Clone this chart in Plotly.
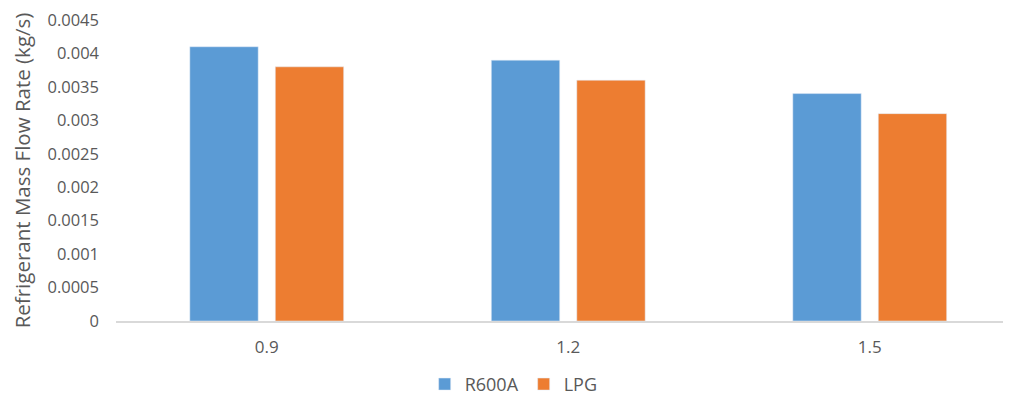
import plotly.graph_objects as go

categories = ["0.9", "1.2", "1.5"]
r600a = [0.0041, 0.0039, 0.0034]
lpg = [0.0038, 0.0036, 0.0031]
y_ticks = [0, 0.0005, 0.001, 0.0015, 0.002, 0.0025, 0.003, 0.0035, 0.004, 0.0045]
y_tick_text = ["0", "0.0005", "0.001", "0.0015", "0.002", "0.0025", "0.003", "0.0035", "0.004", "0.0045"]

font_family = "Open Sans"
gray = "#595959"

fig = go.Figure()
fig.add_trace(go.Bar(x=categories, y=r600a, name="R600A", marker_color="#5B9BD5"))
fig.add_trace(go.Bar(x=categories, y=lpg, name="LPG", marker_color="#ED7D31"))

fig.update_layout(
    width=995, height=388,
    margin=dict(l=108, r=0, t=12, b=75, pad=0),
    paper_bgcolor="white", plot_bgcolor="white",
    barmode="group", bargap=0.433, bargroupgap=0.2,
    font=dict(family=font_family, color=gray, size=16),
    showlegend=True,
    legend=dict(orientation="h", x=0.348, xanchor="left",
                yref="container", y=0.03, yanchor="middle",
                font=dict(size=18, color=gray), itemwidth=30),
)
fig.update_xaxes(
    type="category", range=[-0.5, 2.442], automargin=False,
    showline=True, linecolor="#d9d9d9", linewidth=1.5,
    showgrid=False, ticks="", tickfont=dict(size=17, color=gray),
    ticklabelstandoff=10,
)
fig.update_yaxes(
    range=[0, 0.0045], tickvals=y_ticks, ticktext=y_tick_text, automargin=False,
    showgrid=False, zeroline=False, showline=False, ticks="",
    tickfont=dict(size=16.5, color=gray), ticklabelstandoff=16,
    ticklabeloverflow="allow",
    title=dict(text="Refrigerant Mass Flow Rate (kg/s)", font=dict(size=20.5, color=gray), standoff=19),
)

fig.write_html("out.html")
